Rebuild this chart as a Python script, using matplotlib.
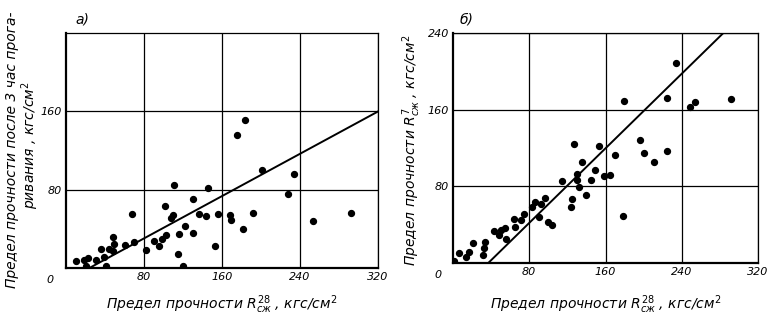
import numpy as np
import matplotlib.pyplot as plt

# а) strength after 3 h steaming vs 28-day strength
x_a = [10, 18, 20, 23, 31, 36, 39, 41, 44, 48, 49, 48, 61, 68, 70, 82, 90, 95, 98,
       102, 103, 108, 110, 111, 115, 116, 120, 122, 130, 130, 136, 144, 146, 153,
       156, 168, 169, 175, 182, 184, 192, 201, 228, 234, 253, 292]
y_a = [7, 8, 2, 10, 8, 19, 11, 2, 19, 32, 25, 17, 24, 55, 27, 18, 28, 22, 30,
       63, 34, 51, 54, 85, 14, 35, 2, 43, 70, 36, 55, 53, 82, 22,
       55, 54, 49, 136, 40, 151, 56, 100, 76, 96, 48, 56]
fit_a = [24, 320]          # x where the line meets y=0 and the right edge
fit_a_slope = 0.54

# б) 7-day strength vs 28-day strength
x_b = [1, 6, 14, 17, 21, 31, 33, 34, 43, 48, 50, 55, 56, 64, 65, 71, 75, 83, 86,
       90, 92, 97, 100, 104, 114, 124, 125, 127, 130, 130, 135, 132, 140, 145,
       149, 153, 158, 165, 170, 178, 179, 196, 200, 211, 224, 224, 234, 249,
       254, 292]
y_b = [2, 10, 6, 12, 21, 8, 16, 22, 33, 29, 34, 37, 25, 46, 38, 45, 51, 58, 64,
       48, 62, 68, 43, 40, 86, 58, 67, 124, 93, 87, 105, 79, 71, 87,
       97, 122, 91, 92, 113, 49, 169, 128, 115, 105, 172, 117, 209, 163,
       168, 171]
fit_b = [37, 284]
fit_b_slope = 0.973

xticks = [80, 160, 240, 320]

plt.rcParams['font.family'] = ['DejaVu Sans']
plt.rcParams['mathtext.fontset'] = 'dejavusans'

fig = plt.figure(figsize=(7.72, 3.28), dpi=100)
ax1 = fig.add_axes([66 / 772, 60 / 328, 312 / 772, 235 / 328])
ax2 = fig.add_axes([453 / 772, 65 / 328, 305 / 772, 230 / 328])

txt = dict(style='italic', fontsize=8)
lab = dict(style='italic', fontsize=10)


def setup(ax, yticks):
    ax.set_xlim(0, 320)
    ax.set_ylim(0, 240)
    ax.set_xticks(xticks)
    ax.set_yticks(yticks)
    ax.set_xticklabels([str(t) for t in xticks], **txt)
    ax.set_yticklabels([str(t) for t in yticks], **txt)
    ax.tick_params(length=0, pad=3)
    ax.grid(True, color='black', lw=0.9)
    ax.set_axisbelow(True)
    for side in ['left', 'bottom']:
        ax.spines[side].set_linewidth(1.6)
    for side in ['top', 'right']:
        ax.spines[side].set_linewidth(0.9)
    ax.text(-0.05, -0.05, '0', transform=ax.transAxes, ha='center', va='center', **txt)


setup(ax1, [80, 160])
setup(ax2, [80, 160, 240])

ax1.scatter(x_a, y_a, s=18, color='black', zorder=3)
fx = np.array(fit_a)
ax1.plot(fx, fit_a_slope * (fx - fit_a[0]), color='black', lw=1.4, zorder=3)

ax2.scatter(x_b, y_b, s=18, color='black', zorder=3)
fx = np.array(fit_b)
ax2.plot(fx, fit_b_slope * (fx - fit_b[0]), color='black', lw=1.4, zorder=3)

xlab = r'Предел прочности $R^{28}_{сж}$ , кгс/см$^2$'
ax1.set_xlabel(xlab, labelpad=8, **lab)
ax2.set_xlabel(xlab, labelpad=12, **lab)

# left y label is set by hand as two rotated lines
fig.text(12 / 772, 1 - 150 / 328, 'Предел прочности после 3 час прога-',
         rotation=90, ha='center', va='center', **lab)
fig.text(30 / 772, 1 - 145 / 328, 'ривания , кгс/см$^2$',
         rotation=90, ha='center', va='center', **lab)
fig.text(412 / 772, 1 - 150 / 328, r'Предел прочности $R^{7}_{сж}$ , кгс/см$^2$',
         rotation=90, ha='center', va='center', **lab)

ax1.text(0.03, 1.04, 'а)', transform=ax1.transAxes, **lab)
ax2.text(0.02, 1.04, 'б)', transform=ax2.transAxes, **lab)

fig.savefig('out.png', dpi=100)
